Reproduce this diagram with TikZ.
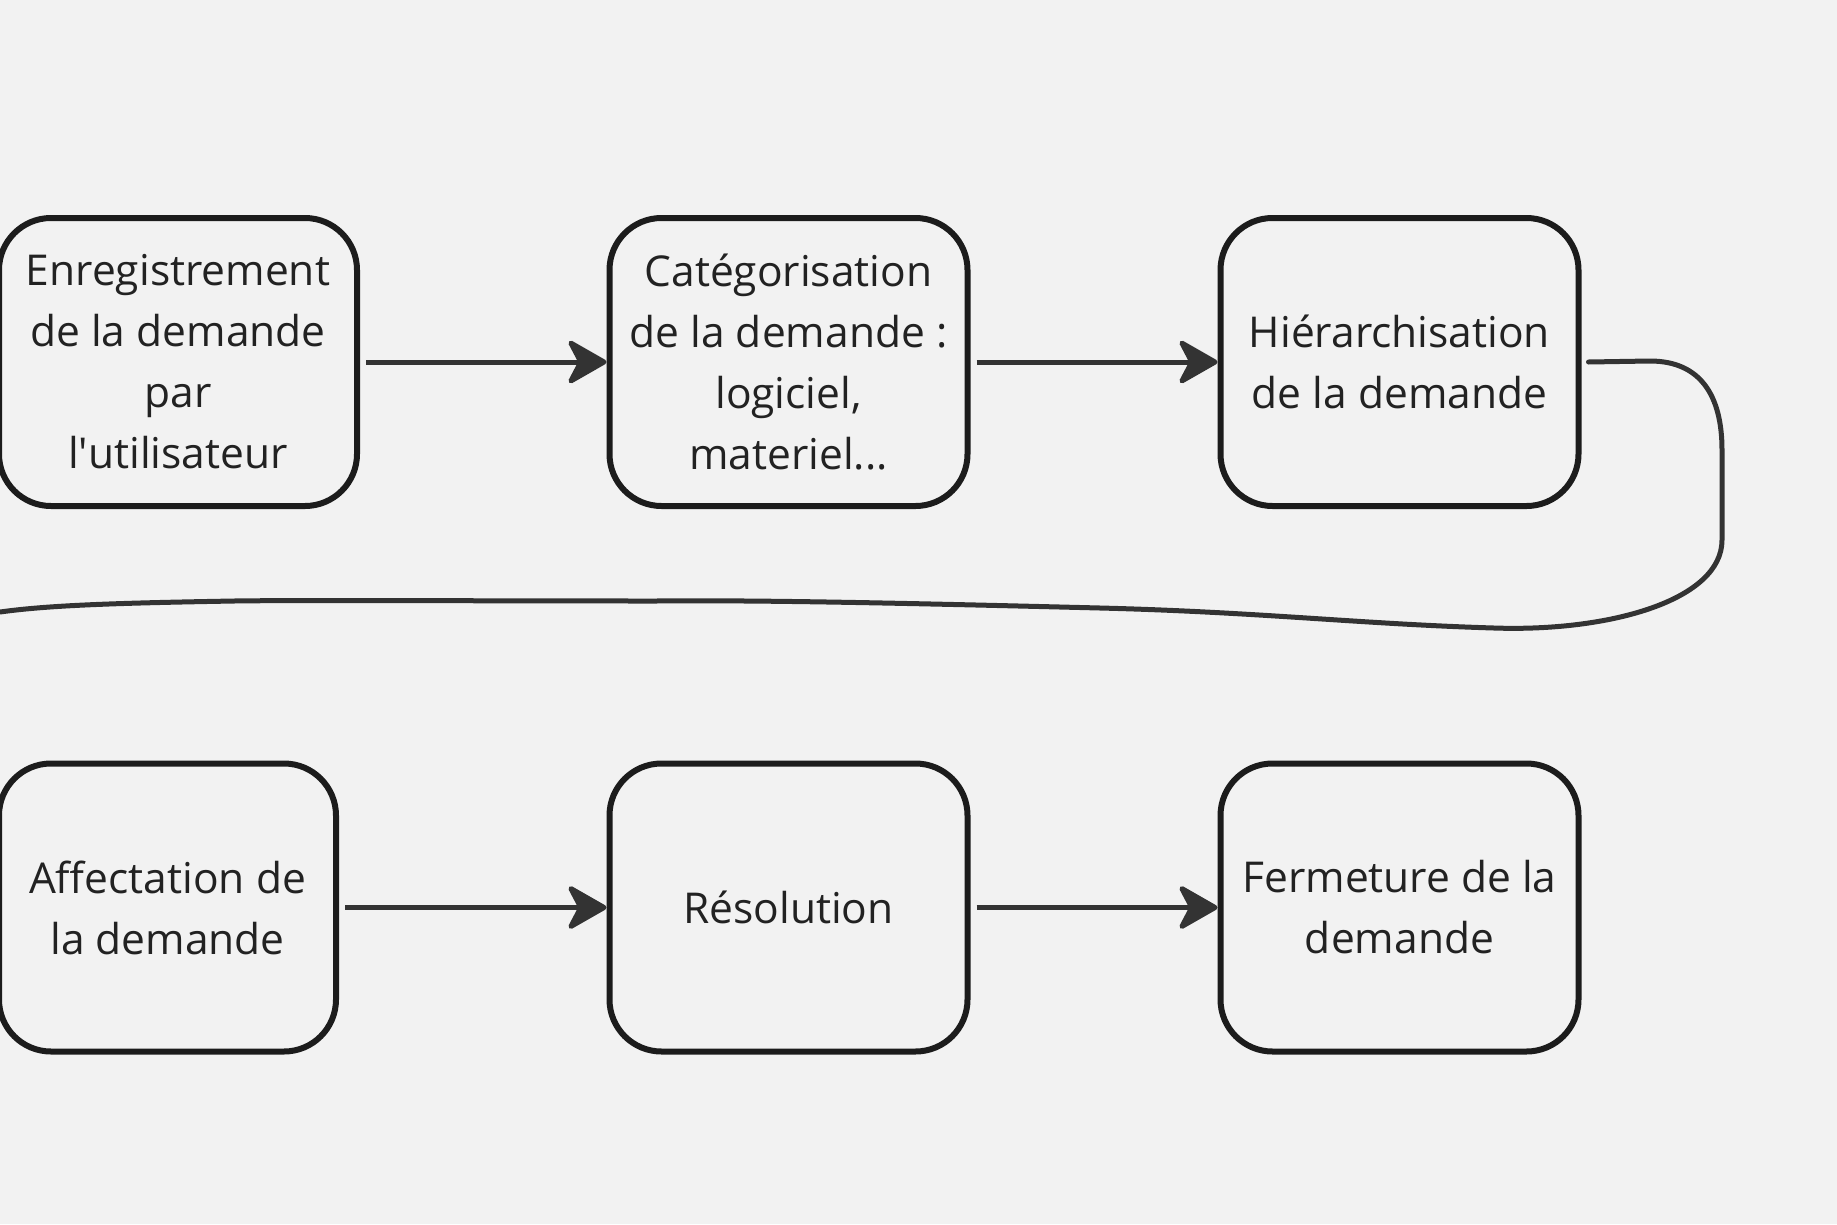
\documentclass[tikz,border=0pt]{standalone}
\usepackage{fontspec}
\setmainfont{Open Sans}
\usetikzlibrary{arrows.meta}
\definecolor{bg}{HTML}{F2F2F2}
\definecolor{boxline}{HTML}{1C1C1C}
\definecolor{conn}{HTML}{333333}
\definecolor{txt}{HTML}{222222}
\tikzset{
  stepbox/.style={draw=boxline, line width=6pt, rounded corners=52pt, minimum height=288pt,
    align=center, text=txt, font=\fontsize{42.5}{61}\selectfont, inner sep=0pt},
  conn/.style={draw=conn, line width=5pt, -{Stealth[length=44pt,width=50pt,inset=13pt,round]}, shorten <=6pt},
  loopline/.style={draw=conn, line width=5pt, line cap=round}
}
\begin{document}
\begin{tikzpicture}[x=1pt,y=-1pt]
\fill[bg] (0,0) rectangle (1837,1224);
\useasboundingbox (0,0) rectangle (1837,1224);
\node[stepbox, minimum width=358pt] (b1) at (178,362) {Enregistrement\\de la demande\\par\\l\textquotesingle utilisateur};
\node[stepbox, minimum width=358pt] (b2) at (788.5,362) {Catégorisation\\de la demande :\\logiciel,\\materiel...};
\node[stepbox, minimum width=358pt] (b3) at (1399.5,362) {Hiérarchisation\\de la demande};
\node[stepbox, minimum width=337pt] (b4) at (167.5,907.5) {Affectation de\\la demande};
\node[stepbox, minimum width=358pt] (b5) at (788.5,907.5) {Résolution};
\node[stepbox, minimum width=358pt] (b6) at (1399.5,907.5) {Fermeture de la\\demande};
\draw[conn] (b1.east) -- (b2.west);
\draw[conn] (b2.east) -- (b3.west);
\draw[conn] (b4.east) -- (b5.west);
\draw[conn] (b5.east) -- (b6.west);
\coordinate (lend) at (0,612);
\draw[loopline] ([xshift=7pt]b3.east) -- (1650,361)
  .. controls (1700,361) and (1722,395) .. (1722,450)
  -- (1722,540)
  .. controls (1722,600) and (1610,632) .. (1494,628)
  .. controls (1360,624) and (1260,612) .. (1100,608)
  .. controls (900,603) and (760,600) .. (656,601)
  .. controls (500,601) and (300,600) .. (234,601)
  .. controls (120,603) and (50,605) .. (lend);
\end{tikzpicture}
\end{document}
